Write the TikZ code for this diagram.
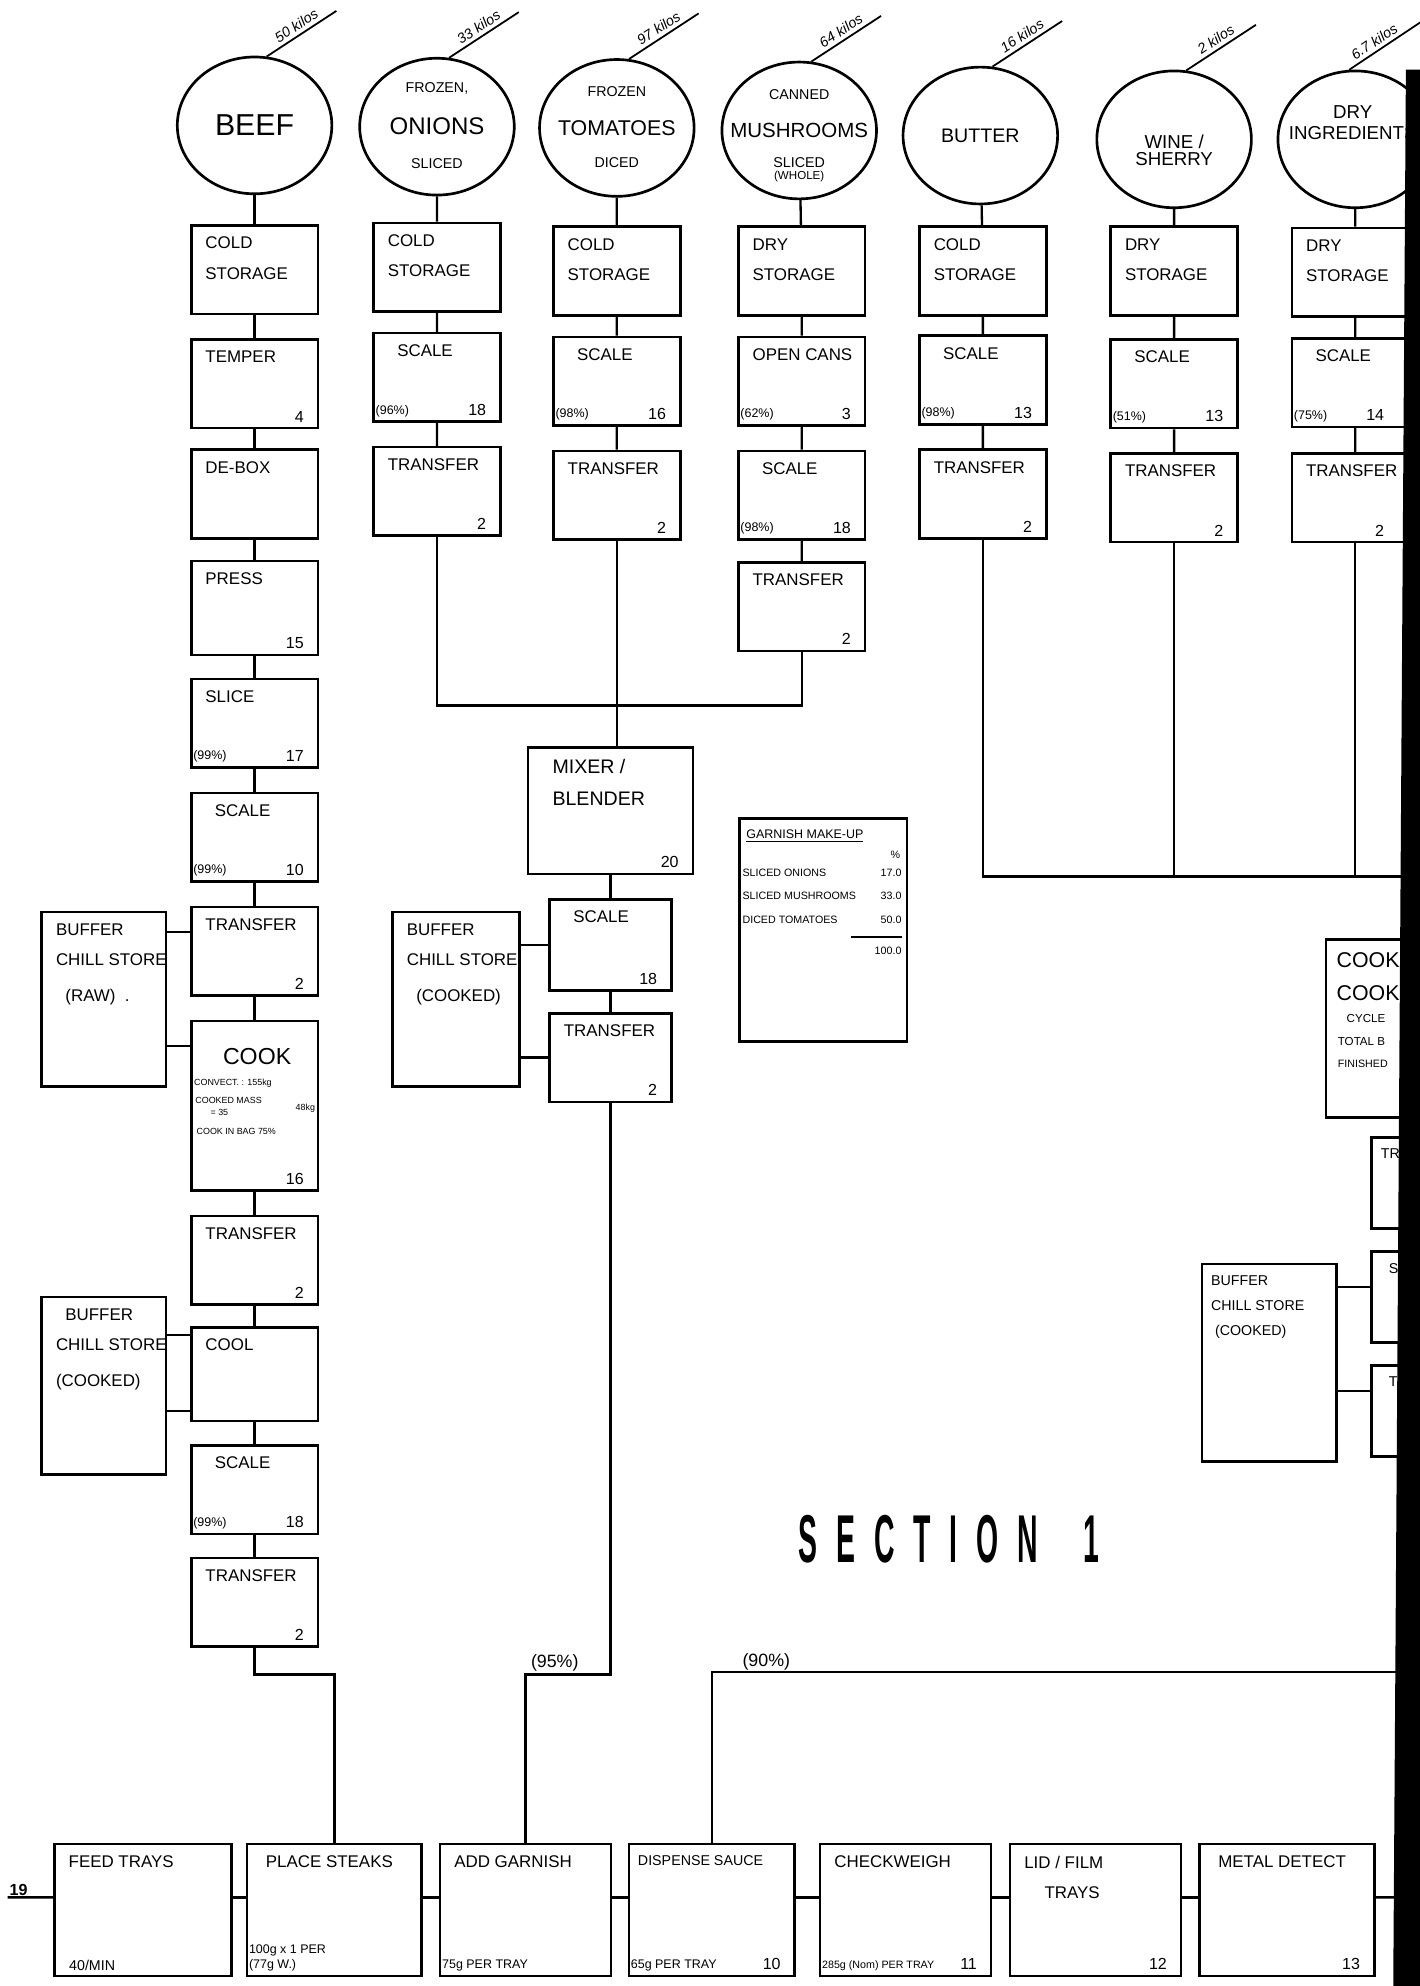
\documentclass[tikz,border=0pt]{standalone}
\usepackage{fontspec}
\setmainfont{Liberation Sans}
\newfontfamily\sectfont[FakeStretch=0.42,LetterSpace=28]{Liberation Sans}
\usetikzlibrary{shapes.geometric,positioning}

\tikzset{
  link/.style={line width=1.3pt},
  stepbox/.style={draw, line width=1.5pt, minimum width=2.5cm, minimum height=1.75cm, inner sep=0pt},
  store/.style={draw, ellipse, line width=1.5pt, minimum width=3.05cm, minimum height=2.7cm, inner sep=0pt},
  lbl/.style={anchor=north west, inner sep=0pt, xshift=0.3cm, yshift=-0.25cm, align=left, font=\fontsize{9.5}{17}\selectfont},
  numl/.style={anchor=south east, inner sep=0pt, xshift=-0.3cm, yshift=0.14cm, font=\fontsize{9}{10}\selectfont},
  pctl/.style={anchor=south west, inner sep=0pt, xshift=0.06cm, yshift=0.12cm, align=left, font=\fontsize{7}{8}\selectfont},
  tl/.style={label={[lbl]north west:{#1}}},
  tlb/.style={label={[lbl, font=\fontsize{11}{18}\selectfont, xshift=0.2cm]north west:{#1}}},
  tls/.style={label={[lbl, font=\fontsize{8}{14}\selectfont, xshift=-0.1cm]north west:{#1}}},
  br/.style={label={[numl]south east:{#1}}},
  brr/.style={label={[numl, xshift=-0.4cm]south east:{#1}}},
  bl/.style={label={[pctl]south west:{#1}}},
  blw/.style={label={[pctl, xshift=0.25cm, font=\fontsize{8}{9}\selectfont]south west:{#1}}},
  wt/.style={font=\itshape\fontsize{8}{9}\selectfont, sloped, above, pos=0.5, inner sep=2pt},
  big/.style={inner sep=0pt, align=center, font=\fontsize{#1}{#1}\selectfont},
  sub/.style={inner sep=0pt, font=\fontsize{8}{9}\selectfont},
  note/.style={inner sep=0pt, anchor=west, font=\fontsize{5}{6}\selectfont},
  mini/.style={inner sep=0pt, font=\fontsize{6}{7}\selectfont},
  pctn/.style={inner sep=1pt, anchor=south, font=\fontsize{10}{11}\selectfont},
}

\begin{document}
\begin{tikzpicture}[x=0.025cm, y=-0.025cm]
\fill[white] (0,0) rectangle (1121,1568);
\useasboundingbox (0,0) rectangle (1121,1568);

% Raw materials
\node[store] (c1) at (201,99) {};
\node[big=17] (ct1) at (c1) {BEEF};
\node[store] (c2) at (345,100) {};
\node[big=13.5] (ct2) at (c2) {ONIONS};
\node[sub, above=0.45cm of ct2] (cs2a) {FROZEN,};
\node[sub, below=0.45cm of ct2] (cs2b) {SLICED};
\node[store] (c3) at (487,101) {};
\node[big=12] (ct3) at (c3) {TOMATOES};
\node[sub, above=0.45cm of ct3] (cs3a) {FROZEN};
\node[sub, below=0.42cm of ct3] (cs3b) {DICED};
\node[store] (c4) at (631,103) {};
\node[big=11.5] (ct4) at (c4) {MUSHROOMS};
\node[sub, above=0.45cm of ct4] (cs4a) {CANNED};
\node[sub, below=0.38cm of ct4] (cs4b) {SLICED};
\node[inner sep=0pt, font=\fontsize{6.5}{7}\selectfont, below=1.5pt of cs4b] (cs4c) {(WHOLE)};
\node[store] (c5) at (774,107) {};
\node[big=11] (ct5) at (c5) {BUTTER};
\node[store] (c6) at (927,110) {};
\node[big=10.5] (ct6) at (927,119) {WINE /\\[-1pt]SHERRY};
\node[store] (c7) at (1070,110) {};
\node[big=10.5] (ct7) at (1068,97) {DRY\\[1pt]INGREDIENTS};

% Weights
\draw[line width=1pt] (c1.80) -- ++(55,-36) node[wt] {50 kilos};
\draw[line width=1pt] (c2.80) -- ++(55,-36) node[wt] {33 kilos};
\draw[line width=1pt] (c3.80) -- ++(55,-36) node[wt] {97 kilos};
\draw[line width=1pt] (c4.80) -- ++(55,-36) node[wt] {64 kilos};
\draw[line width=1pt] (c5.80) -- ++(55,-36) node[wt] {16 kilos};
\draw[line width=1pt] (c6.80) -- ++(55,-36) node[wt] {2 kilos};
\draw[line width=1pt] (c7.95) -- ++(60,-40) node[wt, pos=0.4] {6.7 kilos};

% Beef line
\node[stepbox, tl={COLD\\STORAGE}] (b1) at (201,213) {};
\node[stepbox, tl={TEMPER}, br={4}] (b2) at (201,303) {};
\node[stepbox, tl={DE-BOX}] (b3) at (201,390) {};
\node[stepbox, tl={PRESS}, br={15}, minimum height=1.85cm] (b4) at (201,480) {};
\node[stepbox, tl={SLICE}, bl={(99\%)}, br={17}] (b5) at (201,571) {};
\node[stepbox, tl={\ \ SCALE}, bl={(99\%)}, br={10}] (b6) at (201,661) {};
\node[stepbox, tl={TRANSFER}, br={2}] (b7) at (201,751) {};
\node[stepbox, minimum height=3.35cm, br={16}] (b8) at (201,873) {};
\node[big=13] (ck) at (203,834) {COOK};
\node[note] (ck1) at (153,855) {CONVECT. : 155kg};
\node[note] (ck2) at (154,869) {COOKED MASS};
\node[note] (ck3) at (166,878) {= 35};
\node[note, anchor=east] (ck4) at (249,875) {48kg};
\node[note] (ck5) at (155,893) {COOK IN BAG 75\%};
\node[stepbox, tl={TRANSFER}, br={2}] (b9) at (201,995) {};
\node[stepbox, tl={COOL}, minimum height=1.85cm] (b10) at (201,1085) {};
\node[stepbox, tl={\ \ SCALE}, bl={(99\%)}, br={18}] (b11) at (201,1176) {};
\node[stepbox, tl={TRANSFER}, br={2}] (b12) at (201,1265) {};
\draw[link] (c1) -- (b1) (b1) -- (b2) (b2) -- (b3) (b3) -- (b4) (b4) -- (b5) (b5) -- (b6)
  (b6) -- (b7) (b7) -- (b8) (b8) -- (b9) (b9) -- (b10) (b10) -- (b11) (b11) -- (b12);

% Beef buffers
\node[stepbox, minimum width=2.45cm, minimum height=3.45cm, tl={BUFFER\\CHILL STORE\\[3pt]\ \ (RAW)\ \ .}] (rbuf) at (82,789) {};
\coordinate (r1) at (rbuf.east |- 0,736);
\coordinate (r2) at (rbuf.east |- 0,826);
\draw[link] (r1) -- (r1 -| b7.west) (r2) -- (r2 -| b8.west);
\node[stepbox, minimum width=2.45cm, minimum height=3.5cm, tl={\ \ BUFFER\\CHILL STORE\\[3pt](COOKED)}] (cbuf) at (82,1094) {};
\coordinate (r3) at (cbuf.east |- 0,1054);
\coordinate (r4) at (cbuf.east |- 0,1114);
\draw[link] (r3) -- (r3 -| b10.west) (r4) -- (r4 -| b10.west);

% Garnish ingredients
\node[stepbox, tl={COLD\\STORAGE}] (o1) at (345,211) {};
\node[stepbox, tl={\ \ SCALE}, bl={(96\%)}, br={18}] (o2) at (345,298) {};
\node[stepbox, tl={TRANSFER}, br={2}] (o3) at (345,388) {};
\node[stepbox, tl={COLD\\STORAGE}] (t1) at (487,214) {};
\node[stepbox, tl={\ \ SCALE}, bl={(98\%)}, br={16}] (t2) at (487,301) {};
\node[stepbox, tl={TRANSFER}, br={2}] (t3) at (487,391) {};
\node[stepbox, tl={DRY\\STORAGE}] (m1) at (633,214) {};
\node[stepbox, tl={OPEN CANS}, bl={(62\%)}, br={3}] (m2) at (633,301) {};
\node[stepbox, tl={\ \ SCALE}, bl={(98\%)}, br={18}] (m3) at (633,391) {};
\node[stepbox, tl={TRANSFER}, br={2}] (m4) at (633,479) {};
\draw[link] (c2) -- (o1) (o1) -- (o2) (o2) -- (o3)
  (c3) -- (t1) (t1) -- (t2) (t2) -- (t3)
  (c4) -- (m1) (m1) -- (m2) (m2) -- (m3) (m3) -- (m4);

% Mixer
\node[stepbox, minimum width=3.25cm, minimum height=2.5cm, tlb={MIXER /\\BLENDER}, br={20}] (mix) at (482,640) {};
\node[stepbox, minimum width=2.4cm, minimum height=1.8cm, tl={\ \ SCALE}, br={18}] (gs) at (482,746) {};
\node[stepbox, minimum width=2.4cm, tl={TRANSFER}, br={2}] (gt) at (482,835) {};
\coordinate (gjoin) at (487,557);
\draw[link] (o3.south) |- (gjoin) -| (m4.south);
\draw[link] (t3.south) -- (t3.south |- mix.north);
\draw[link] (mix) -- (gs) (gs) -- (gt);
\node[stepbox, minimum width=2.5cm, minimum height=3.45cm, tl={BUFFER\\CHILL STORE\\[3pt]\ \ (COOKED)}] (gbuf) at (360,789) {};
\draw[link] (gs.west) -- (gs.west -| gbuf.east) (gt.west) -- (gt.west -| gbuf.east);

% Garnish make-up table
\node[stepbox, minimum width=3.3cm, minimum height=4.4cm] (gmk) at (650,734) {};
\node[inner sep=0pt, anchor=west, font=\fontsize{7}{8}\selectfont] (gm0) at (589,660) {\underline{GARNISH MAKE-UP}};
\node[mini, anchor=east] (gmp) at (711,675) {\%};
\node[mini, anchor=west] (gm1) at (586,689) {SLICED ONIONS};
\node[mini, anchor=east] (gv1) at (712,689) {17.0};
\node[mini, anchor=west] (gm2) at (586,707) {SLICED MUSHROOMS};
\node[mini, anchor=east] (gv2) at (712,707) {33.0};
\node[mini, anchor=west] (gm3) at (586,726) {DICED TOMATOES};
\node[mini, anchor=east] (gv3) at (712,726) {50.0};
\draw[line width=1pt] (672,740) -- (712,740);
\node[mini, anchor=east] (gtot) at (712,751) {100.0};

% Sauce ingredients
\node[stepbox, tl={COLD\\STORAGE}] (u1) at (776,214) {};
\node[stepbox, tl={\ \ SCALE}, bl={(98\%)}, br={13}] (u2) at (776,300) {};
\node[stepbox, tl={TRANSFER}, br={2}] (u3) at (776,390) {};
\node[stepbox, tl={DRY\\STORAGE}] (w1) at (927,214) {};
\node[stepbox, tl={\ \ SCALE}, bl={(51\%)}, br={13}] (w2) at (927,303) {};
\node[stepbox, tl={TRANSFER}, br={2}] (w3) at (927,393) {};
\node[stepbox, tl={DRY\\STORAGE}] (d1) at (1070,215) {};
\node[stepbox, tl={\ \ SCALE}, bl={(75\%)}, brr={14}] (d2) at (1070,302) {};
\node[stepbox, tl={TRANSFER}, brr={2}] (d3) at (1070,393) {};
\draw[link] (c5) -- (u1) (u1) -- (u2) (u2) -- (u3)
  (c6) -- (w1) (w1) -- (w2) (w2) -- (w3)
  (c7) -- (d1) (d1) -- (d2) (d2) -- (d3);
\coordinate (cj) at (1110,692);
\draw[link] (u3.south) |- (cj);
\draw[link] (w3.south) -- (w3.south |- cj) (d3.south) -- (d3.south |- cj);

% Sauce cooking (cut at edge)
\node[stepbox, minimum width=2.2cm, minimum height=3.5cm] (rc) at (1091,812) {};
\node[big=12, anchor=west] (rc1) at (1055,758) {COOK-};
\node[big=12, anchor=west] (rc2) at (1055,784) {COOK};
\node[big=6.5, anchor=west] (rc3) at (1063,804) {CYCLE};
\node[big=6.5, anchor=west] (rc4) at (1056,822) {TOTAL B};
\node[big=6, anchor=west] (rc5) at (1056,840) {FINISHED};
\node[stepbox, minimum width=1.2cm, minimum height=1.8cm, tls={TR}] (rt) at (1107,934) {};
\node[stepbox, minimum width=1.2cm, minimum height=1.8cm, tls={\ \ S}] (rs) at (1107,1024) {};
\node[stepbox, minimum width=1.2cm, minimum height=1.8cm, tls={\ \ T}] (rtt) at (1107,1114) {};
\node[stepbox, minimum width=2.65cm, minimum height=3.9cm, tls={BUFFER\\CHILL STORE\\\ (COOKED)}] (rbf) at (1002,1076) {};
\coordinate (q1) at (rbf.east |- 0,1016);
\coordinate (q2) at (rbf.east |- 0,1098);
\draw[link] (q1) -- (q1 -| rs.west) (q2) -- (q2 -| rtt.west);

% Title
\node[inner sep=0pt, anchor=west, font=\sectfont\bfseries\fontsize{38}{40}\selectfont] (sec) at (630,1215) {SECTION\kern0.9cm 1};

% Assembly line
\node[stepbox, minimum width=3.5cm, minimum height=2.6cm, tl={FEED TRAYS}, blw={40/MIN}] (fe) at (113,1508) {};
\node[stepbox, minimum width=3.45cm, minimum height=2.6cm, tl={\ PLACE STEAKS}, bl={100g x 1 PER\\(77g W.)}] (ps) at (264,1508) {};
\node[stepbox, minimum width=3.375cm, minimum height=2.6cm, tl={ADD GARNISH}, bl={75g PER TRAY}] (ag) at (415,1508) {};
\node[stepbox, minimum width=3.275cm, minimum height=2.6cm, tls={DISPENSE SAUCE}, bl={65g PER TRAY}, br={10}] (ds) at (562,1508) {};
\node[stepbox, minimum width=3.375cm, minimum height=2.6cm, tl={CHECKWEIGH}, label={[pctl, font=\fontsize{6}{7}\selectfont]south west:{285g (Nom) PER TRAY}}, br={11}] (cw) at (715,1508) {};
\node[stepbox, minimum width=3.375cm, minimum height=2.6cm, tl={LID / FILM\\\hspace{0.4cm}TRAYS}, br={12}] (lf) at (865,1508) {};
\node[stepbox, minimum width=3.45cm, minimum height=2.6cm, tl={\ METAL DETECT}, br={13}] (md) at (1016,1508) {};
\coordinate (in19) at (6,1498);
\node[inner sep=1pt, anchor=south west, font=\bfseries\fontsize{9}{10}\selectfont] (t19) at (in19) {19};
\draw[link] (in19) -- ([yshift=0.25cm]fe.west);
\draw[link] ([yshift=0.25cm]fe.east) -- ([yshift=0.25cm]ps.west)
  ([yshift=0.25cm]ps.east) -- ([yshift=0.25cm]ag.west)
  ([yshift=0.25cm]ag.east) -- ([yshift=0.25cm]ds.west)
  ([yshift=0.25cm]ds.east) -- ([yshift=0.25cm]cw.west)
  ([yshift=0.25cm]cw.east) -- ([yshift=0.25cm]lf.west)
  ([yshift=0.25cm]lf.east) -- ([yshift=0.25cm]md.west);
\coordinate (mdout) at (1110,1498);
\draw[link] ([yshift=0.25cm]md.east) -- (mdout);

% Feeds into the line
\coordinate (bj) at (232,1322);
\draw[link] (b12.south) |- (bj) -| (ps.north);
\coordinate (gj) at (447,1322);
\draw[link] (gt.south) |- (gj) -| (ag.north);
\node[pctn] (p95) at (438,1321) {(95\%)};
\coordinate (sj) at (1110,1320);
\draw[link] (sj) -| (ds.north);
\node[pctn] (p90) at (605,1320) {(90\%)};

% Edge of the sheet
\fill[black] (1110,55) -- (1121,55) -- (1121,1568) -- (1100,1568) -- cycle;
\end{tikzpicture}
\end{document}
